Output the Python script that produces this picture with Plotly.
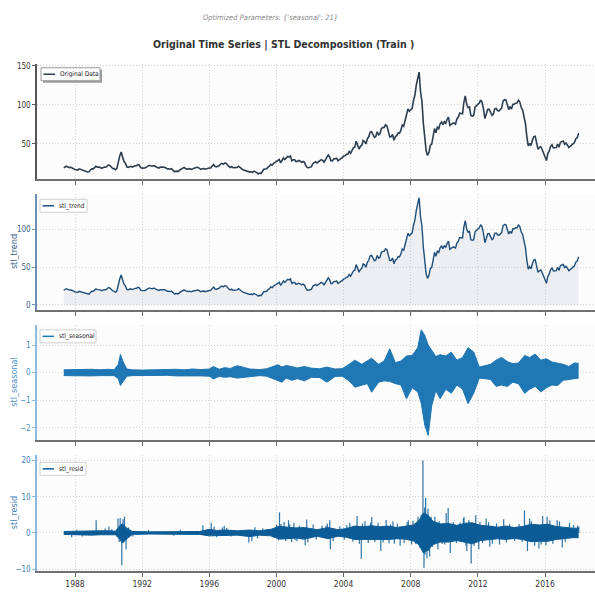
import pandas as pd
import plotly.graph_objects as go

# ---------------------------------------------------------------- data
START = "1987-05-01"

# monthly crude price level (USD/bbl), May 1987 .. Jan 2018
wti_monthly = [
    19.4, 20.1, 21.3, 20.3, 19.5, 19.9, 18.9, 17.3,
    17.1, 16.8, 16.2, 17.9, 17.4, 16.5, 15.5, 15.5, 14.5, 13.8, 14.1, 16.4,
    18.0, 17.9, 19.5, 21.1, 20.1, 20.1, 19.8, 18.6, 19.6, 20.1, 19.9, 21.1,
    22.9, 22.1, 20.4, 18.4, 18.2, 16.7, 18.5, 27.3, 34.5, 39.5, 32.3, 27.3,
    25.2, 20.5, 19.9, 20.8, 21.2, 20.2, 21.4, 21.7, 21.9, 23.2, 22.5, 19.5,
    18.8, 19.0, 18.9, 20.2, 21.0, 22.4, 21.8, 21.3, 21.9, 21.7, 20.3, 19.4,
    19.0, 20.1, 20.3, 20.3, 20.0, 19.1, 17.9, 18.0, 17.5, 18.2, 16.6, 14.5,
    15.0, 14.8, 14.7, 16.4, 17.9, 19.1, 19.7, 18.4, 17.5, 17.7, 18.1, 17.2,
    18.0, 18.6, 18.5, 19.9, 19.7, 18.5, 17.3, 18.0, 18.2, 17.4, 18.0, 19.0,
    18.9, 19.1, 21.3, 23.5, 21.2, 20.4, 21.3, 21.9, 24.0, 24.9, 23.7, 25.2,
    25.1, 22.2, 21.0, 19.7, 20.8, 19.3, 19.7, 20.0, 19.8, 21.3, 20.2, 18.3,
    16.7, 16.1, 15.1, 15.4, 14.9, 13.7, 14.2, 13.5, 15.0, 14.5, 13.0, 11.4,
    12.5, 12.0, 14.7, 17.3, 17.7, 17.9, 20.1, 21.3, 23.8, 22.7, 25.0, 26.1,
    27.3, 29.4, 29.8, 25.7, 28.8, 31.8, 29.7, 31.3, 33.9, 33.1, 34.4, 28.4,
    29.6, 29.6, 27.2, 27.5, 28.6, 27.6, 26.4, 27.4, 26.2, 22.2, 19.6, 19.4,
    19.7, 20.7, 24.5, 26.2, 27.0, 25.5, 27.0, 28.4, 29.7, 28.8, 26.4, 29.5,
    33.0, 35.8, 33.5, 28.2, 28.1, 30.7, 30.8, 31.6, 28.3, 30.3, 31.1, 32.1,
    34.3, 34.7, 36.7, 36.8, 40.3, 38.0, 40.8, 44.9, 45.9, 53.3, 48.5, 43.2,
    46.8, 48.2, 54.2, 53.0, 49.8, 56.4, 59.0, 65.0, 65.6, 62.3, 58.3, 59.4,
    65.5, 61.6, 62.7, 69.4, 70.8, 71.0, 74.4, 73.0, 63.8, 58.9, 59.1, 62.0,
    54.5, 59.3, 60.4, 64.0, 63.5, 67.5, 74.1, 72.4, 79.9, 85.8, 94.8, 91.7,
    93.0, 95.4, 105.5, 112.6, 125.4, 133.9, 142.0, 116.7, 104.1, 76.6, 57.3, 41.1,
    35.0, 39.1, 47.9, 49.7, 59.0, 69.6, 64.2, 71.1, 69.4, 75.7, 78.0, 74.5,
    78.3, 76.4, 81.2, 84.3, 73.7, 75.3, 76.3, 76.6, 75.2, 81.9, 84.3, 89.2,
    89.2, 88.6, 102.9, 111.5, 100.9, 96.3, 97.3, 86.3, 85.5, 86.3, 97.2, 98.6,
    100.3, 102.2, 106.2, 103.3, 94.7, 82.3, 87.9, 94.1, 94.5, 89.5, 86.5, 87.9,
    94.8, 95.3, 92.9, 92.0, 94.5, 95.8, 104.7, 106.6, 106.3, 100.5, 93.9, 97.6,
    94.6, 100.8, 100.8, 102.1, 102.2, 105.8, 103.6, 96.5, 93.2, 84.4, 75.8, 59.3,
    47.2, 50.6, 47.8, 54.5, 59.3, 59.8, 50.9, 42.9, 45.5, 46.2, 42.4, 37.2,
    31.7, 28.5, 37.6, 40.8, 46.7, 48.8, 44.7, 44.7, 45.2, 49.8, 45.7, 52.0,
    52.5, 53.5, 49.3, 51.1, 48.5, 45.2, 46.6, 48.0, 49.8, 51.6, 56.6, 57.9,
    63.7,
]

# STL trend follows the level closely at this resolution
stl_trend = list(wti_monthly)

# envelope of the seasonal component (upper / lower swing)
seas_dates = [
    "1987-05-01", "1988-01-01", "1988-07-01", "1989-01-01", "1989-07-01", "1990-01-01",
    "1990-05-01", "1990-08-01", "1990-09-15", "1990-11-15", "1991-02-01", "1991-06-01",
    "1992-01-01", "1992-07-01", "1993-01-01", "1993-07-01", "1994-01-01", "1994-07-01",
    "1995-01-01", "1995-07-01", "1996-01-01", "1996-04-01", "1996-08-01", "1996-12-01",
    "1997-04-01", "1997-09-01", "1998-01-01", "1998-06-01", "1999-01-01", "1999-06-01",
    "2000-02-01", "2000-05-01", "2000-08-01", "2000-12-01", "2001-04-01", "2001-09-01",
    "2002-02-01", "2002-08-01", "2003-01-01", "2003-07-01", "2003-12-01", "2004-05-01",
    "2004-09-01", "2005-02-01", "2005-06-01", "2005-09-01", "2006-02-01", "2006-06-01",
    "2006-10-01", "2007-02-01", "2007-06-01", "2007-10-01", "2008-02-01", "2008-06-01",
    "2008-08-15", "2008-11-01", "2009-01-15", "2009-04-01", "2009-07-01", "2009-10-01",
    "2010-02-01", "2010-06-01", "2010-10-01", "2011-02-01", "2011-06-01", "2011-10-01",
    "2012-02-01", "2012-06-01", "2012-10-01", "2013-02-01", "2013-06-01", "2013-10-01",
    "2014-02-01", "2014-06-01", "2014-10-15", "2015-02-01", "2015-06-01", "2015-10-01",
    "2016-02-01", "2016-06-01", "2016-10-01", "2017-02-01", "2017-06-01", "2017-10-01",
    "2018-01-01",
]
seas_hi = [
    0.10, 0.11, 0.10, 0.12, 0.10, 0.12,
    0.10, 0.30, 0.66, 0.38, 0.13, 0.10,
    0.09, 0.10, 0.09, 0.10, 0.12, 0.10,
    0.13, 0.11, 0.13, 0.22, 0.12, 0.18,
    0.15, 0.25, 0.20, 0.13, 0.11, 0.14,
    0.28, 0.20, 0.26, 0.22, 0.17, 0.22,
    0.16, 0.14, 0.20, 0.13, 0.14, 0.30,
    0.45, 0.30, 0.42, 0.52, 0.30, 0.42,
    0.86, 0.36, 0.42, 0.60, 0.62, 0.90,
    1.55, 1.35, 1.00, 0.80, 0.58, 0.65,
    0.60, 0.74, 0.45, 0.55, 0.90, 0.75,
    0.20, 0.25, 0.30, 0.45, 0.55, 0.40,
    0.32, 0.35, 0.62, 0.55, 0.67, 0.45,
    0.50, 0.38, 0.33, 0.30, 0.22, 0.35,
    0.33,
]
seas_lo = [
    -0.11, -0.12, -0.11, -0.12, -0.11, -0.12,
    -0.11, -0.22, -0.47, -0.32, -0.13, -0.11,
    -0.10, -0.11, -0.11, -0.10, -0.12, -0.11,
    -0.12, -0.12, -0.13, -0.23, -0.14, -0.17,
    -0.15, -0.20, -0.18, -0.14, -0.11, -0.13,
    -0.30, -0.35, -0.20, -0.28, -0.22, -0.30,
    -0.17, -0.18, -0.35, -0.14, -0.13, -0.30,
    -0.53, -0.45, -0.40, -0.71, -0.35, -0.30,
    -0.32, -0.40, -0.45, -0.95, -0.55, -0.70,
    -1.10, -1.90, -2.28, -1.20, -0.65, -0.95,
    -0.60, -0.75, -0.45, -0.60, -1.13, -0.75,
    -0.20, -0.22, -0.25, -0.50, -0.45, -0.50,
    -0.35, -0.40, -0.75, -0.60, -0.50, -0.70,
    -0.55, -0.45, -0.47, -0.28, -0.25, -0.20,
    -0.20,
]

# envelope of the dense residual core
resid_dates = [
    "1987-05-01", "1988-01-01", "1988-07-01", "1989-01-01", "1989-07-01", "1990-01-01",
    "1990-06-01", "1990-09-01", "1990-11-01", "1991-02-01", "1991-06-01", "1992-06-01",
    "1993-06-01", "1994-06-01", "1995-06-01", "1996-01-01", "1996-06-01", "1997-01-01",
    "1997-09-01", "1998-06-01", "1999-01-01", "1999-09-01", "2000-03-01", "2000-09-01",
    "2001-03-01", "2001-09-01", "2002-06-01", "2003-02-01", "2003-09-01", "2004-03-01",
    "2004-09-01", "2005-03-01", "2005-09-01", "2006-03-01", "2006-09-01", "2007-03-01",
    "2007-09-01", "2008-03-01", "2008-07-01", "2008-10-01", "2009-01-01", "2009-05-01",
    "2009-10-01", "2010-04-01", "2010-10-01", "2011-04-01", "2011-09-01", "2012-03-01",
    "2012-09-01", "2013-03-01", "2013-09-01", "2014-03-01", "2014-09-01", "2015-03-01",
    "2015-09-01", "2016-03-01", "2016-09-01", "2017-03-01", "2017-09-01", "2018-01-01",
]
resid_hi = [
    0.4, 0.5, 0.6, 0.5, 0.6, 0.6,
    0.5, 2.0, 2.5, 1.3, 0.4, 0.3,
    0.3, 0.35, 0.4, 1.0, 0.7, 0.8,
    0.6, 0.8, 0.6, 1.0, 1.8, 1.6,
    1.4, 1.5, 0.9, 1.5, 0.9, 1.2,
    1.9, 1.7, 2.0, 1.7, 1.9, 1.5,
    1.8, 2.2, 3.5, 5.5, 5.0, 3.2,
    2.5, 2.6, 2.1, 2.7, 2.8, 2.1,
    1.9, 1.6, 1.9, 1.5, 1.8, 2.4,
    2.2, 2.4, 1.8, 1.5, 1.3, 1.3,
]
resid_lo = [
    -0.4, -0.5, -0.5, -0.6, -0.5, -0.6,
    -0.5, -1.8, -2.8, -1.6, -0.4, -0.3,
    -0.3, -0.35, -0.4, -0.8, -0.7, -0.6,
    -0.6, -1.0, -0.6, -0.8, -1.7, -1.6,
    -1.4, -1.7, -0.9, -1.6, -0.9, -1.2,
    -1.8, -1.8, -1.9, -1.8, -1.8, -1.6,
    -1.7, -2.2, -3.3, -5.5, -4.8, -3.2,
    -2.5, -2.5, -2.1, -2.6, -3.0, -2.1,
    -1.9, -1.6, -1.8, -1.5, -1.8, -2.4,
    -2.3, -2.3, -1.8, -1.5, -1.3, -1.3,
]

# isolated residual spikes
spike_dates = [
    "1987-10-20", "1988-02-10", "1988-06-10", "1989-04-05", "1989-10-20", "1990-01-08",
    "1990-03-10", "1990-07-25", "1990-08-20", "1990-09-10", "1990-10-15", "1990-11-10",
    "1990-12-12", "1991-01-17", "1991-03-10", "1991-06-15", "1992-05-20", "1993-11-20",
    "1994-04-10", "1995-08-15", "1996-02-12", "1996-04-15", "1996-06-10", "1996-10-10",
    "1996-11-20", "1997-01-15", "1997-04-15", "1998-05-10", "1998-07-15", "1998-09-20",
    "1998-11-15", "1999-03-10", "1999-06-10", "1999-10-15", "2000-01-05", "2000-01-20",
    "2000-02-15", "2000-03-08", "2000-04-10", "2000-06-15", "2000-07-20", "2000-09-20",
    "2000-10-15", "2000-11-25", "2001-01-15", "2001-02-10", "2001-03-20", "2001-05-15",
    "2001-07-20", "2001-09-17", "2001-10-20", "2001-11-15", "2002-03-10", "2002-05-15",
    "2002-09-20", "2002-12-15", "2003-01-10", "2003-03-05", "2003-03-20", "2003-05-20",
    "2003-10-10", "2004-01-15", "2004-03-10", "2004-05-15", "2004-07-20", "2004-10-20",
    "2004-12-10", "2005-01-20", "2005-02-15", "2005-04-10", "2005-06-20", "2005-08-10",
    "2005-09-05", "2005-11-10", "2006-01-20", "2006-03-20", "2006-05-10", "2006-07-15",
    "2006-09-15", "2006-10-20", "2006-12-10", "2007-01-10", "2007-03-15", "2007-05-15",
    "2007-08-10", "2007-10-15", "2007-11-10", "2008-01-20", "2008-02-20", "2008-04-15",
    "2008-06-06", "2008-07-10", "2008-08-15", "2008-09-22", "2008-10-15", "2008-10-30",
    "2008-11-05", "2008-11-20", "2008-12-19", "2009-01-10", "2009-01-25", "2009-02-15",
    "2009-03-20", "2009-04-20", "2009-06-10", "2009-08-15", "2009-09-10", "2009-11-15",
    "2010-01-10", "2010-02-10", "2010-03-25", "2010-05-10", "2010-07-15", "2010-09-20",
    "2010-12-10", "2011-02-20", "2011-03-05", "2011-04-15", "2011-05-05", "2011-06-20",
    "2011-08-08", "2011-10-10", "2011-11-15", "2012-01-20", "2012-02-15", "2012-04-10",
    "2012-06-29", "2012-08-20", "2012-09-15", "2012-11-10", "2013-02-10", "2013-04-15",
    "2013-07-15", "2013-09-10", "2013-11-20", "2014-03-10", "2014-06-15", "2014-08-20",
    "2014-10-10", "2014-12-15", "2015-01-30", "2015-03-10", "2015-05-20", "2015-08-20",
    "2015-10-10", "2015-11-10", "2016-01-20", "2016-02-15", "2016-04-15", "2016-06-20",
    "2016-09-20", "2016-11-10", "2017-01-10", "2017-03-15", "2017-06-15", "2017-09-10",
    "2017-12-10", "2018-01-05",
]
spike_vals = [
    -1.2, 0.9, -1.0, 3.5, 1.2, 1.8,
    1.0, 4.0, -2.5, 4.1, -8.9, 3.8,
    4.5, -4.5, 1.5, -1.0, 0.8, -0.8,
    0.9, 2.1, 2.8, 1.8, -1.2, 1.5,
    1.9, 1.4, -1.0, -2.6, -2.2, 1.6,
    -1.5, 1.2, 1.0, -1.2, 2.2, 1.8,
    -2.0, 5.7, 2.5, 3.0, -2.2, 3.5,
    2.4, -2.5, 2.8, -2.0, -2.3, 2.0,
    -1.8, -3.4, 3.7, -2.6, 2.3, -1.8,
    2.0, 2.0, 2.6, 3.5, -4.5, -2.2,
    1.8, -1.9, 2.2, 2.8, -2.4, 4.7,
    -3.0, -7.1, 2.6, 3.2, -2.8, 2.9,
    4.4, -2.5, 2.8, -5.0, -2.6, 3.6,
    -2.9, 2.4, 3.2, -3.0, 2.6, -3.5,
    -2.8, 3.0, 3.5, -3.2, 3.4, -3.0,
    4.5, -4.0, 5.0, 20.0, -9.6, 7.0,
    -6.0, 9.7, -7.0, 6.7, -5.0, -6.5,
    4.5, -3.8, 4.5, -4.5, 3.2, -3.0,
    -3.2, 5.5, 6.9, -5.5, 3.0, -2.8,
    2.9, 4.0, 4.4, -3.5, -5.0, 3.5,
    -8.4, -3.6, 4.9, -4.5, 3.0, -2.8,
    4.0, 3.0, -3.8, -3.0, 2.6, -3.2,
    3.8, -2.6, 2.4, -2.2, 2.5, -2.5,
    6.2, -5.0, 4.0, 3.2, -3.5, -4.3,
    -3.2, 4.7, -3.4, 4.5, 3.5, -3.0,
    3.5, 3.2, -4.0, -2.5, 2.8, 2.2,
    2.0, 1.8,
]

year_ticks = ["1988", "1992", "1996", "2000", "2004", "2008", "2012", "2016"]

# ---------------------------------------------------------------- geometry
W, H = 595, 592
ML, MR, MT, MB = 37, 0, 0, 21
PW, PH = W - ML - MR, H - MT - MB
PANELS = [(62, 178), (193, 309), (324, 440), (455, 571)]   # pixel top/bottom


def px(x):
    return (x - ML) / PW


def py(y):
    return 1 - (y - MT) / PH


FONT = "DejaVu Sans Condensed, Liberation Sans Narrow, Arial Narrow, sans-serif"
C_ORIG = "#2c3e50"
C_TREND = "#1f4e79"
C_SEAS = "#1f77b4"
C_RESID = "#0b5c96"
GRID = "#d6d6d6"
GRID_DASH = "1px,2px"

months = pd.date_range(START, periods=len(wti_monthly), freq="MS")

fig = go.Figure()

fig.add_trace(go.Scatter(x=months, y=wti_monthly, mode="lines",
                         line=dict(color=C_ORIG, width=1.6),
                         xaxis="x", yaxis="y", showlegend=False))

fig.add_trace(go.Scatter(x=months, y=stl_trend, mode="lines", fill="tozeroy",
                         fillcolor="rgba(60,80,120,0.08)",
                         line=dict(color=C_TREND, width=1.4),
                         xaxis="x2", yaxis="y2", showlegend=False))

fig.add_trace(go.Scatter(x=pd.to_datetime(seas_dates), y=seas_lo, mode="lines",
                         line=dict(color=C_SEAS, width=1),
                         xaxis="x3", yaxis="y3", showlegend=False))
fig.add_trace(go.Scatter(x=pd.to_datetime(seas_dates), y=seas_hi, mode="lines",
                         fill="tonexty", fillcolor=C_SEAS,
                         line=dict(color=C_SEAS, width=1),
                         xaxis="x3", yaxis="y3", showlegend=False))

sx, sy = [], []
for d, v in zip(pd.to_datetime(spike_dates), spike_vals):
    sx += [d, d, None]
    sy += [0, v, None]
fig.add_trace(go.Scatter(x=sx, y=sy, mode="lines",
                         line=dict(color="rgba(11,92,150,0.85)", width=1.2),
                         xaxis="x4", yaxis="y4", showlegend=False))
fig.add_trace(go.Scatter(x=pd.to_datetime(resid_dates), y=resid_lo, mode="lines",
                         line=dict(color=C_RESID, width=1),
                         xaxis="x4", yaxis="y4", showlegend=False))
fig.add_trace(go.Scatter(x=pd.to_datetime(resid_dates), y=resid_hi, mode="lines",
                         fill="tonexty", fillcolor=C_RESID,
                         line=dict(color=C_RESID, width=1),
                         xaxis="x4", yaxis="y4", showlegend=False))

# ---------------------------------------------------------------- axes
y_specs = [
    dict(range=[4.4, 152.6], tickvals=[50, 100, 150], color="#333333", line="#555555"),
    dict(range=[-6.8, 146.5], tickvals=[0, 50, 100], color="#3b5f8a", line="#6f8fb5"),
    dict(range=[-2.46, 1.73], tickvals=[-2, -1, 0, 1], color="#4a90c8", line="#8dbbe0"),
    dict(range=[-10.5, 21.4], tickvals=[-10, 0, 10, 20], color="#3f7fb5", line="#8db7da"),
]
x_range = ["1985-09-26", "2018-12-23"]

layout = dict(
    width=W, height=H,
    margin=dict(l=ML, r=MR, t=MT, b=MB, pad=0),
    paper_bgcolor="white", plot_bgcolor="#fcfcfc",
    font=dict(family=FONT, size=9, color="#333333"),
    showlegend=False,
)

for i, ((top, bot), spec) in enumerate(zip(PANELS, y_specs), start=1):
    sfx = "" if i == 1 else str(i)
    layout["xaxis" + sfx] = dict(
        type="date", range=x_range, anchor="y" + sfx,
        tickvals=[pd.Timestamp(y + "-01-01") for y in year_ticks], ticktext=year_ticks,
        showticklabels=(i == 4), tickfont=dict(size=8.5, color="#333333"),
        ticks="outside", ticklen=4, tickwidth=1, tickcolor="#666666",
        showline=True, linecolor="#707070", linewidth=2,
        showgrid=True, gridcolor=GRID, griddash=GRID_DASH, gridwidth=1,
        zeroline=False,
        **({} if i == 1 else dict(matches="x")),
    )
    layout["yaxis" + sfx] = dict(
        domain=[py(bot), py(top)], range=spec["range"], anchor="x" + sfx,
        tickvals=spec["tickvals"], tickfont=dict(size=8, color=spec["color"]),
        ticks="outside", ticklen=3, tickwidth=1, tickcolor=spec["line"],
        showline=True, linecolor=spec["line"], linewidth=1.5,
        showgrid=True, gridcolor=GRID, griddash=GRID_DASH, gridwidth=1,
        zeroline=False,
    )

fig.update_layout(**layout)

# ---------------------------------------------------------------- text
ann = [
    dict(text="<i>Optimized Parameters: {'seasonal': 21}</i>", x=px(270), y=py(16),
         font=dict(size=7.5, color="#8a8a8a")),
    dict(text="<b>Original Time Series | STL Decomposition (Train )</b>", x=px(283), y=py(43),
         font=dict(size=10.5, color="#333333")),
]
for text, yc, col in [("stl_trend", 251, "#3b5f8a"),
                      ("stl_seasonal", 382, "#4a90c8"),
                      ("stl_resid", 513, "#3f7fb5")]:
    ann.append(dict(text=text, x=px(14), y=py(yc), textangle=-90,
                    font=dict(size=9, color=col)))

shapes = []
legends = [
    ("Original Data", C_ORIG, (41, 66, 100, 79), True),
    ("stl_trend", C_TREND, (40, 198, 87, 211), False),
    ("stl_seasonal", C_SEAS, (40, 329, 96, 342), False),
    ("stl_resid", C_RESID, (40, 462, 86, 475), False),
]
for text, col, (x0, y0, x1, y1), shadow in legends:
    if shadow:
        shapes.append(dict(type="rect", xref="paper", yref="paper",
                           x0=px(x0 + 2), x1=px(x1 + 2), y0=py(y1 + 2), y1=py(y0 + 2),
                           fillcolor="#9a9a9a", line=dict(width=0), layer="above"))
    shapes.append(dict(type="rect", xref="paper", yref="paper",
                       x0=px(x0), x1=px(x1), y0=py(y1), y1=py(y0),
                       fillcolor="white",
                       line=dict(color="#9a9a9a" if shadow else "#d0d0d0", width=1),
                       layer="above"))
    ym = (y0 + y1) / 2
    shapes.append(dict(type="line", xref="paper", yref="paper",
                       x0=px(x0 + 2.5), x1=px(x0 + 14), y0=py(ym), y1=py(ym),
                       line=dict(color=col, width=1.5), layer="above"))
    ann.append(dict(text=text, x=px(x0 + 17), y=py(ym), xanchor="left",
                    font=dict(size=6.5, color="#222222")))

for a in ann:
    a.setdefault("xref", "paper")
    a.setdefault("yref", "paper")
    a.setdefault("showarrow", False)
    a.setdefault("xanchor", "center")
    a.setdefault("yanchor", "middle")

fig.update_layout(annotations=ann, shapes=shapes)

fig.write_html("out.html")
